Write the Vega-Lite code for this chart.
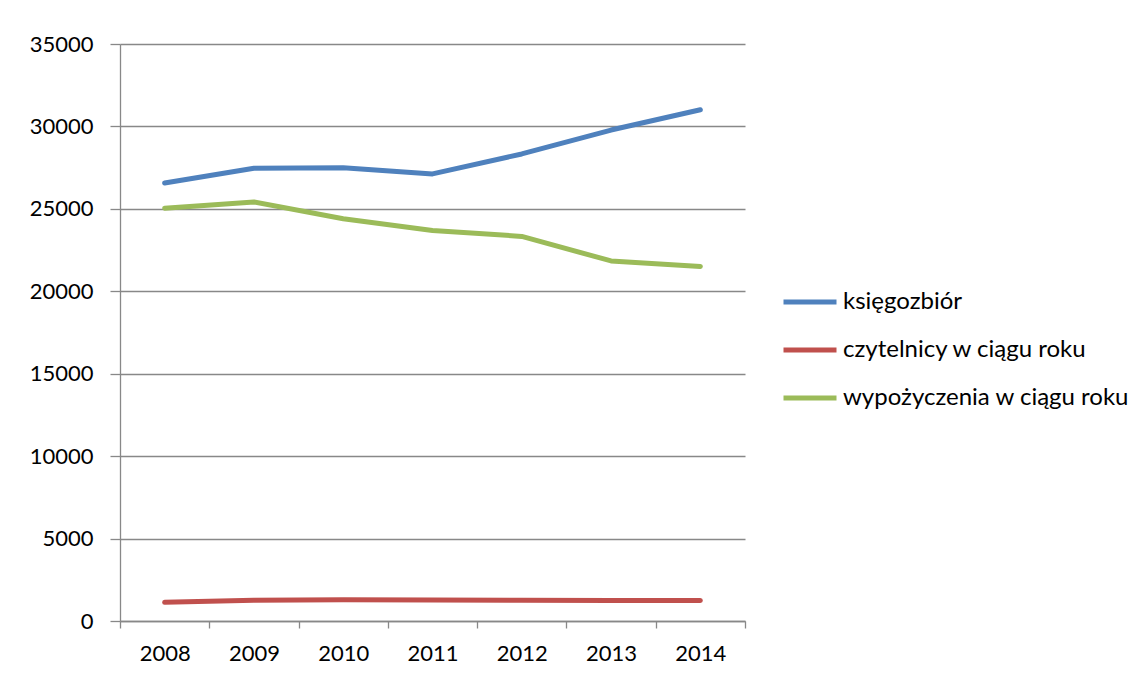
{
  "$schema": "https://vega.github.io/schema/vega-lite/v6.json",
  "autosize": {"type": "none"},
  "padding": {"left": 120, "top": 44, "right": 402, "bottom": 57},
  "width": 625,
  "height": 577,
  "background": "white",
  "config": {
    "view": {"stroke": null},
    "font": "Lato",
    "axis": {"labelFont": "Lato", "labelColor": "#000000", "labelFontSize": 22, "domainColor": "#888888", "tickColor": "#888888", "gridColor": "#888888", "domainWidth": 1.3, "tickWidth": 1.3, "gridWidth": 1.3},
    "legend": {"labelFont": "Lato", "labelFontSize": 24, "labelColor": "#000000", "labelLimit": 0}
  },
  "data": {
    "values": [
      {"year": "2008", "series": "księgozbiór", "value": 26570},
      {"year": "2009", "series": "księgozbiór", "value": 27460},
      {"year": "2010", "series": "księgozbiór", "value": 27500},
      {"year": "2011", "series": "księgozbiór", "value": 27120},
      {"year": "2012", "series": "księgozbiór", "value": 28330},
      {"year": "2013", "series": "księgozbiór", "value": 29780},
      {"year": "2014", "series": "księgozbiór", "value": 31010},
      {"year": "2008", "series": "czytelnicy w ciągu roku", "value": 1130},
      {"year": "2009", "series": "czytelnicy w ciągu roku", "value": 1260},
      {"year": "2010", "series": "czytelnicy w ciągu roku", "value": 1290},
      {"year": "2011", "series": "czytelnicy w ciągu roku", "value": 1270},
      {"year": "2012", "series": "czytelnicy w ciągu roku", "value": 1260},
      {"year": "2013", "series": "czytelnicy w ciągu roku", "value": 1250},
      {"year": "2014", "series": "czytelnicy w ciągu roku", "value": 1240},
      {"year": "2008", "series": "wypożyczenia w ciągu roku", "value": 25040},
      {"year": "2009", "series": "wypożyczenia w ciągu roku", "value": 25420},
      {"year": "2010", "series": "wypożyczenia w ciągu roku", "value": 24400},
      {"year": "2011", "series": "wypożyczenia w ciągu roku", "value": 23690},
      {"year": "2012", "series": "wypożyczenia w ciągu roku", "value": 23330},
      {"year": "2013", "series": "wypożyczenia w ciągu roku", "value": 21840},
      {"year": "2014", "series": "wypożyczenia w ciągu roku", "value": 21510}
    ]
  },
  "mark": {"type": "line", "strokeWidth": 5, "strokeCap": "round", "strokeJoin": "round"},
  "encoding": {
    "x": {
      "field": "year", "type": "ordinal",
      "scale": {"type": "band", "paddingInner": 0, "paddingOuter": 0},
      "axis": {"title": null, "labelAngle": 0, "tickBand": "extent", "tickSize": 7, "labelPadding": 15, "grid": false}
    },
    "y": {
      "field": "value", "type": "quantitative",
      "scale": {"domain": [0, 35000], "nice": false},
      "axis": {"title": null, "values": [0, 5000, 10000, 15000, 20000, 25000, 30000, 35000], "format": "d", "tickSize": 10, "labelPadding": 17, "grid": true}
    },
    "color": {
      "field": "series", "type": "nominal",
      "scale": {"domain": ["księgozbiór", "czytelnicy w ciągu roku", "wypożyczenia w ciągu roku"], "range": ["#4F81BD", "#C0504D", "#9BBB59"]},
      "legend": {"title": null, "orient": "none", "legendX": 661, "legendY": 229, "symbolType": "stroke", "symbolSize": 2809, "symbolStrokeWidth": 5, "labelOffset": 4, "rowPadding": 7}
    }
  }
}
